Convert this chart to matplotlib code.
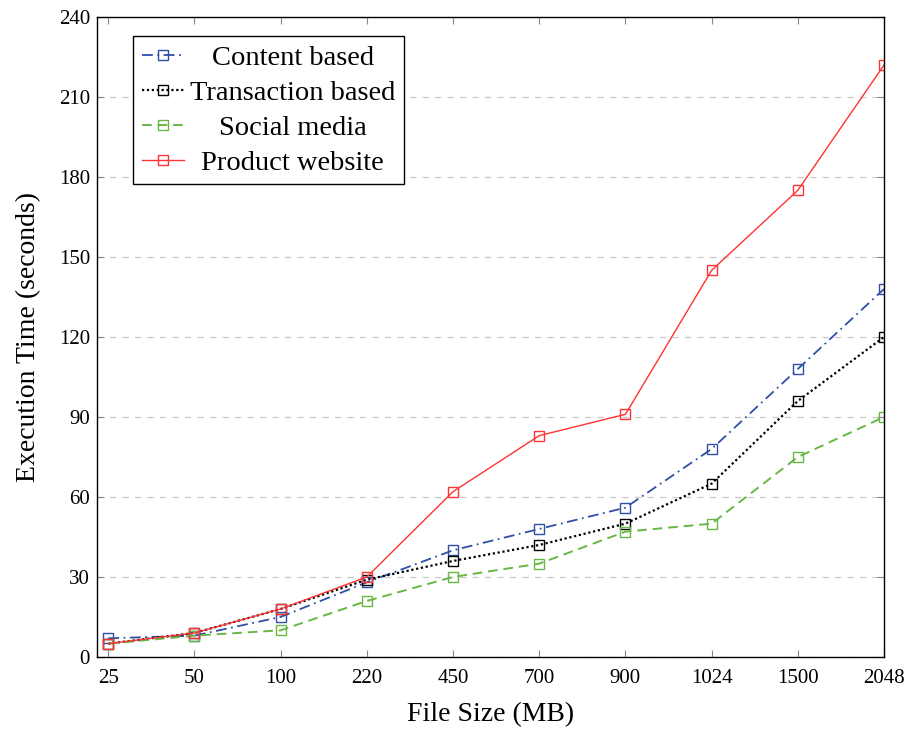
import matplotlib
matplotlib.use("Agg")
import matplotlib.pyplot as plt

sizes = ["25", "50", "100", "220", "450", "700", "900", "1024", "1500", "2048"]
content_based = [7, 8, 15, 28, 40, 48, 56, 78, 108, 138]
transaction_based = [5, 9, 18, 29, 36, 42, 50, 65, 96, 120]
social_media = [5, 8, 10, 21, 30, 35, 47, 50, 75, 90]
product_website = [5, 9, 18, 30, 62, 83, 91, 145, 175, 222]

plt.rcParams["font.family"] = ["Liberation Serif", "DejaVu Serif"]

fig = plt.figure(figsize=(9.11, 7.29), dpi=100)
ax = fig.add_axes([0.1065, 0.0988, 0.8639, 0.8779])

x = list(range(len(sizes)))
ax.plot(x, content_based, color="#2f4fa6", linestyle=(0, (6, 2.5, 1, 2.5)), linewidth=1.3,
        marker="s", markersize=7, markerfacecolor="none", label="Content based")
ax.plot(x, transaction_based, color="black", linestyle=(0, (1, 1.2)), linewidth=1.6,
        marker="s", markersize=7, markerfacecolor="none", label="Transaction based")
ax.plot(x, social_media, color="#66b845", linestyle=(0, (5, 3)), linewidth=1.4,
        marker="s", markersize=7, markerfacecolor="none", label="Social media")
ax.plot(x, product_website, color="#ff3333", linestyle="-", linewidth=1.0,
        marker="s", markersize=7.5, markerfacecolor="none", label="Product website")

ax.set_xlim(-0.13, 9)
ax.set_ylim(0, 240)
ax.set_xticks(x)
ax.set_xticklabels(sizes)
ax.set_yticks(range(0, 241, 30))
ax.yaxis.grid(True, linestyle=(0, (5, 5)), color="#c8c8c8", linewidth=0.9)
ax.set_axisbelow(True)
ax.tick_params(direction="in", top=True, right=True, length=5, color="#888888",
               labelsize=15, pad=5)
ax.tick_params(axis="x", pad=9)
for s in ax.spines.values():
    s.set_linewidth(1.0)

ax.set_xlabel("File Size (MB)", fontsize=20, labelpad=10)
ax.set_ylabel("Execution Time (seconds)", fontsize=20, labelpad=13)

leg = ax.legend(loc="upper left", bbox_to_anchor=(0.0457, 0.97), fontsize=20.5, fancybox=False,
                edgecolor="black", framealpha=1, handlelength=1.5, borderpad=0.3,
                labelspacing=0.32, handletextpad=0.2, borderaxespad=0)
leg.get_frame().set_linewidth(1.0)

# centre the legend labels like the original
fig.canvas.draw()
r = fig.canvas.get_renderer()
widths = [t.get_window_extent(r).width for t in leg.get_texts()]
wmax = max(widths)
for t, w in zip(leg.get_texts(), widths):
    t.set_x((wmax - w) / 2)

fig.savefig("out.png", dpi=100)
